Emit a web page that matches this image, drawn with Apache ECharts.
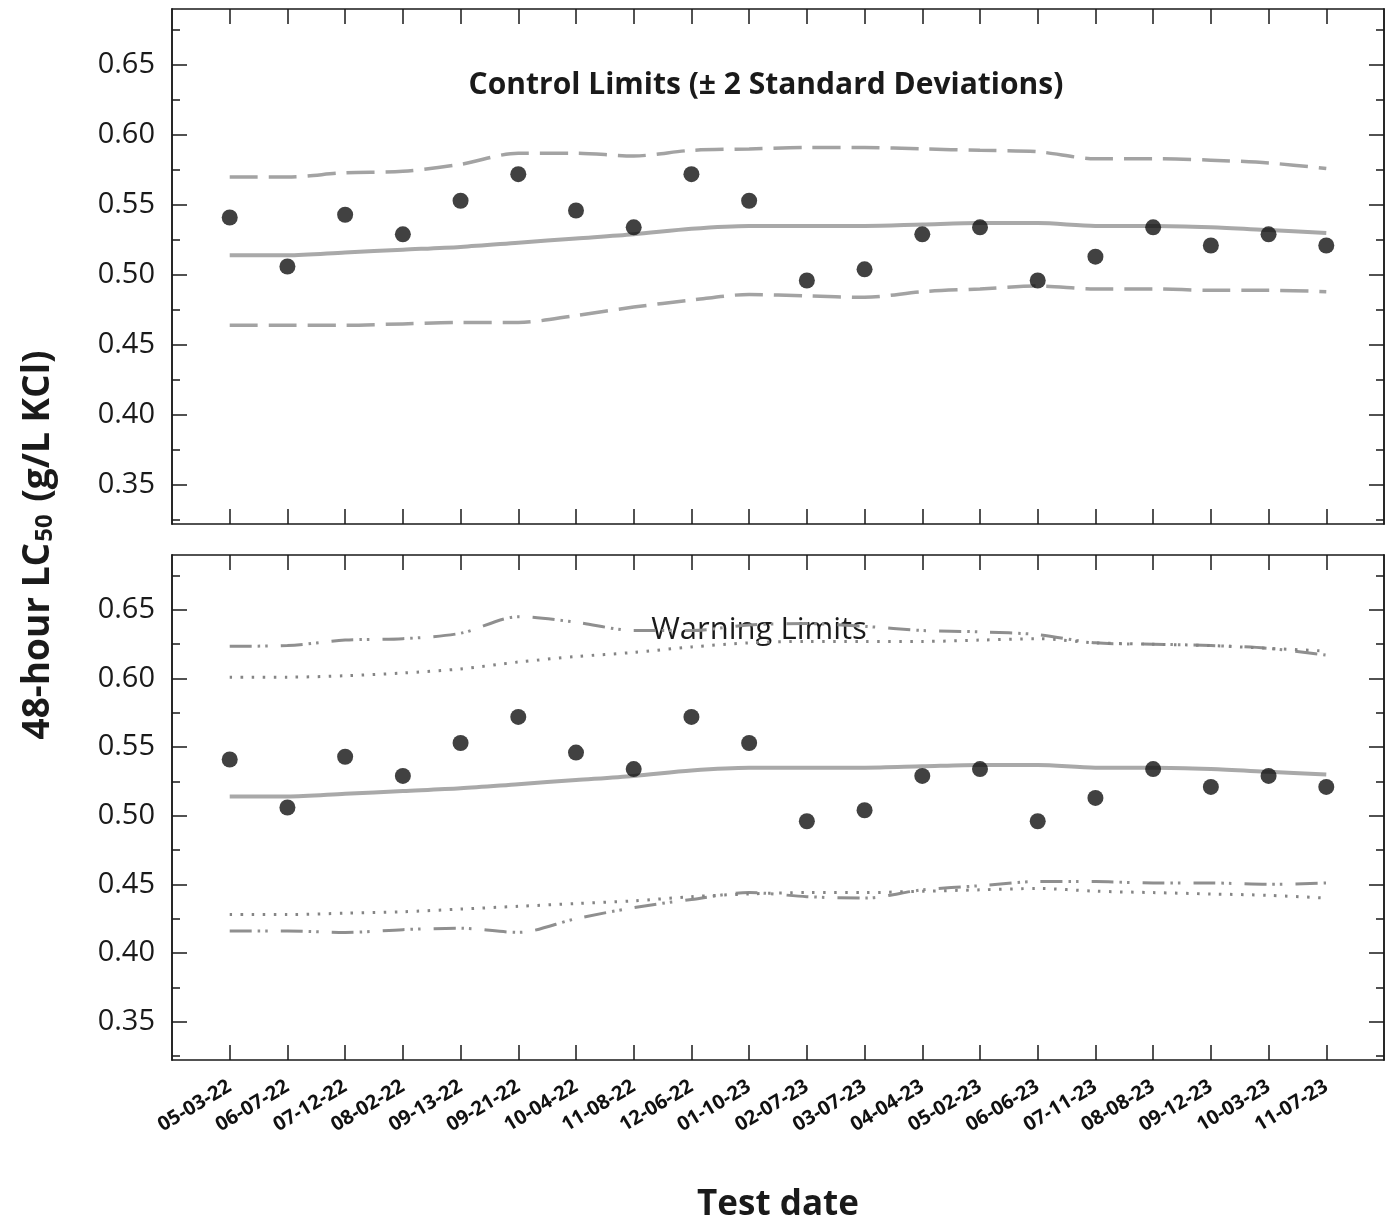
<!DOCTYPE html>
<html>
<head>
<meta charset="utf-8">
<script src="https://cdn.jsdelivr.net/npm/echarts@6/dist/echarts.min.js"></script>
<style>
  html, body { margin: 0; padding: 0; background: #ffffff; }
  #chart { width: 1388px; height: 1224px; }
</style>
</head>
<body>
<div id="chart"></div>
<script>
// Reference toxicant test dates (MM-DD-YY)
const testDates = ['05-03-22', '06-07-22', '07-12-22', '08-02-22', '09-13-22', '09-21-22', '10-04-22',
  '11-08-22', '12-06-22', '01-10-23', '02-07-23', '03-07-23', '04-04-23', '05-02-23', '06-06-23',
  '07-11-23', '08-08-23', '09-12-23', '10-03-23', '11-07-23'];

// 48-hour LC50 results (g/L KCl)
const lc50 = [0.541, 0.506, 0.543, 0.529, 0.553, 0.572, 0.546, 0.534, 0.572, 0.553,
  0.496, 0.504, 0.529, 0.534, 0.496, 0.513, 0.534, 0.521, 0.529, 0.521];

// Running mean
const meanLC50 = [0.514, 0.514, 0.516, 0.518, 0.520, 0.523, 0.526, 0.529, 0.533, 0.535,
  0.535, 0.535, 0.536, 0.537, 0.537, 0.535, 0.535, 0.534, 0.532, 0.530];

// Control limits (mean ± 2 SD)
const controlUpper = [0.570, 0.570, 0.573, 0.574, 0.579, 0.587, 0.587, 0.585, 0.589, 0.590,
  0.591, 0.591, 0.590, 0.589, 0.588, 0.583, 0.583, 0.582, 0.580, 0.576];
const controlLower = [0.464, 0.464, 0.464, 0.465, 0.466, 0.466, 0.471, 0.477, 0.482, 0.486,
  0.485, 0.484, 0.488, 0.490, 0.492, 0.490, 0.490, 0.489, 0.489, 0.488];

// Warning limits (dash-dot-dot pair)
const warningUpperA = [0.6235, 0.624, 0.628, 0.629, 0.633, 0.645, 0.641, 0.635, 0.635, 0.639,
  0.640, 0.638, 0.635, 0.634, 0.632, 0.626, 0.625, 0.624, 0.622, 0.617];
const warningLowerA = [0.416, 0.416, 0.415, 0.417, 0.418, 0.415, 0.425, 0.433, 0.439, 0.444,
  0.441, 0.440, 0.446, 0.449, 0.452, 0.452, 0.451, 0.451, 0.450, 0.451];

// Warning limits (dotted pair)
const warningUpperB = [0.601, 0.601, 0.602, 0.604, 0.607, 0.612, 0.616, 0.619, 0.623, 0.626,
  0.627, 0.627, 0.627, 0.628, 0.629, 0.626, 0.625, 0.624, 0.622, 0.620];
const warningLowerB = [0.428, 0.428, 0.429, 0.430, 0.432, 0.434, 0.436, 0.438, 0.441, 0.443,
  0.444, 0.444, 0.445, 0.446, 0.447, 0.445, 0.444, 0.443, 0.442, 0.440];

// Y-axis tick values
const majorTicks = [0.35, 0.40, 0.45, 0.50, 0.55, 0.60, 0.65];
const minorTicks = [0.325, 0.375, 0.425, 0.475, 0.525, 0.575, 0.625, 0.675];

const Y_MIN = 0.322, Y_MAX = 0.69;
const FONT = '"Open Sans", "Noto Sans", sans-serif';
const INK = '#1a1a1a';

const xIndex = testDates.map((d, i) => i);
const pairs = arr => arr.map((v, i) => [i, v]);

const chart = echarts.init(document.getElementById('chart'), null, { renderer: 'canvas' });

function xAxisFor(gridIndex, position, withLabels) {
  return {
    type: 'value', gridIndex, position, min: -1, max: 20,
    axisLine: { show: true, onZero: false, lineStyle: { color: INK, width: 1.5 } },
    axisTick: { show: true, inside: true, length: 15, customValues: xIndex,
      lineStyle: { color: INK, width: 1.5 } },
    axisLabel: withLabels ? {
      show: true, customValues: xIndex, rotate: 31, margin: 25,
      fontFamily: FONT, fontWeight: 'bold', fontSize: 20, color: '#111111',
      formatter: v => testDates[Math.round(v)] || ''
    } : { show: false },
    splitLine: { show: false }
  };
}

function yAxisFor(gridIndex, position, ticks, len, withLabels) {
  return {
    type: 'value', gridIndex, position, min: Y_MIN, max: Y_MAX,
    axisLine: { show: true, onZero: false, lineStyle: { color: INK, width: 1.5 } },
    axisTick: { show: true, inside: true, length: len, customValues: ticks,
      lineStyle: { color: INK, width: 1.5 } },
    axisLabel: withLabels ? {
      show: true, customValues: ticks, margin: 17,
      fontFamily: FONT, fontSize: 29, color: INK,
      formatter: v => v.toFixed(2)
    } : { show: false },
    splitLine: { show: false }
  };
}

const xAxes = [
  xAxisFor(0, 'bottom', false),
  xAxisFor(0, 'top', false),
  Object.assign(xAxisFor(1, 'bottom', true), {
    name: 'Test date', nameLocation: 'middle', nameGap: 128,
    nameTextStyle: { fontFamily: FONT, fontWeight: 'bold', fontSize: 35, color: INK }
  }),
  xAxisFor(1, 'top', false)
];

const yAxes = [];
[0, 1].forEach(g => {
  yAxes.push(yAxisFor(g, 'left', majorTicks, 15, true));
  yAxes.push(yAxisFor(g, 'left', minorTicks, 8, false));
  yAxes.push(yAxisFor(g, 'right', majorTicks, 15, false));
  yAxes.push(yAxisFor(g, 'right', minorTicks, 8, false));
});

function lineSeries(name, data, g, style) {
  return {
    name, type: 'line', xAxisIndex: g * 2, yAxisIndex: g * 4,
    data: pairs(data), smooth: 0.3, showSymbol: false, symbol: 'none',
    lineStyle: style, z: 2, silent: true
  };
}

function pointSeries(g) {
  return {
    name: '48-hour LC50', type: 'scatter', xAxisIndex: g * 2, yAxisIndex: g * 4,
    data: pairs(lc50), symbol: 'circle', symbolSize: 16,
    itemStyle: { color: '#111111' }, z: 5
  };
}

const meanStyle = { color: '#a9a9a9', width: 4 };
const controlStyle = { color: '#a3a3a3', width: 3.5, type: [28, 11] };
const dashDotStyle = { color: '#8f8f8f', width: 3, type: [22, 6, 2.5, 5, 2.5, 13] };
const dottedStyle = { color: '#858585', width: 3, type: [2.5, 8.5] };

const option = {
  backgroundColor: '#ffffff',
  animation: false,
  grid: [
    { left: 172, right: 4, top: 9, height: 515, containLabel: false },
    { left: 172, right: 4, top: 555, height: 515, containLabel: false }
  ],
  xAxis: xAxes,
  yAxis: yAxes,
  graphic: [
    {
      type: 'text', x: 766, y: 85, z: 0,
      style: { text: 'Control Limits (\u00b1 2 Standard Deviations)', fontFamily: FONT,
        fontWeight: 'bold', fontSize: 30, fill: INK, align: 'center', verticalAlign: 'middle' }
    },
    {
      type: 'text', x: 759, y: 630, z: 0,
      style: { text: 'Warning Limits', fontFamily: FONT, fontSize: 31, fill: INK,
        align: 'center', verticalAlign: 'middle' }
    },
    {
      type: 'text', x: 33, y: 545, rotation: Math.PI / 2, z: 0,
      style: {
        text: '{a|48-hour LC}{s|50}{a| (g/L KCl)}',
        align: 'center', verticalAlign: 'middle', fill: INK,
        rich: {
          a: { fontFamily: FONT, fontWeight: 'bold', fontSize: 37, fill: INK, verticalAlign: 'bottom', lineHeight: 48 },
          s: { fontFamily: FONT, fontWeight: 'bold', fontSize: 24, fill: INK, verticalAlign: 'bottom', lineHeight: 14, padding: [0, 3, 0, 1] }
        }
      }
    }
  ],
  series: [
    lineSeries('Upper control limit', controlUpper, 0, controlStyle),
    lineSeries('Lower control limit', controlLower, 0, controlStyle),
    lineSeries('Mean', meanLC50, 0, meanStyle),
    pointSeries(0),
    lineSeries('Upper warning limit A', warningUpperA, 1, dashDotStyle),
    lineSeries('Upper warning limit B', warningUpperB, 1, dottedStyle),
    lineSeries('Lower warning limit A', warningLowerA, 1, dashDotStyle),
    lineSeries('Lower warning limit B', warningLowerB, 1, dottedStyle),
    lineSeries('Mean', meanLC50, 1, meanStyle),
    pointSeries(1)
  ]
};

chart.setOption(option);
</script>
</body>
</html>
